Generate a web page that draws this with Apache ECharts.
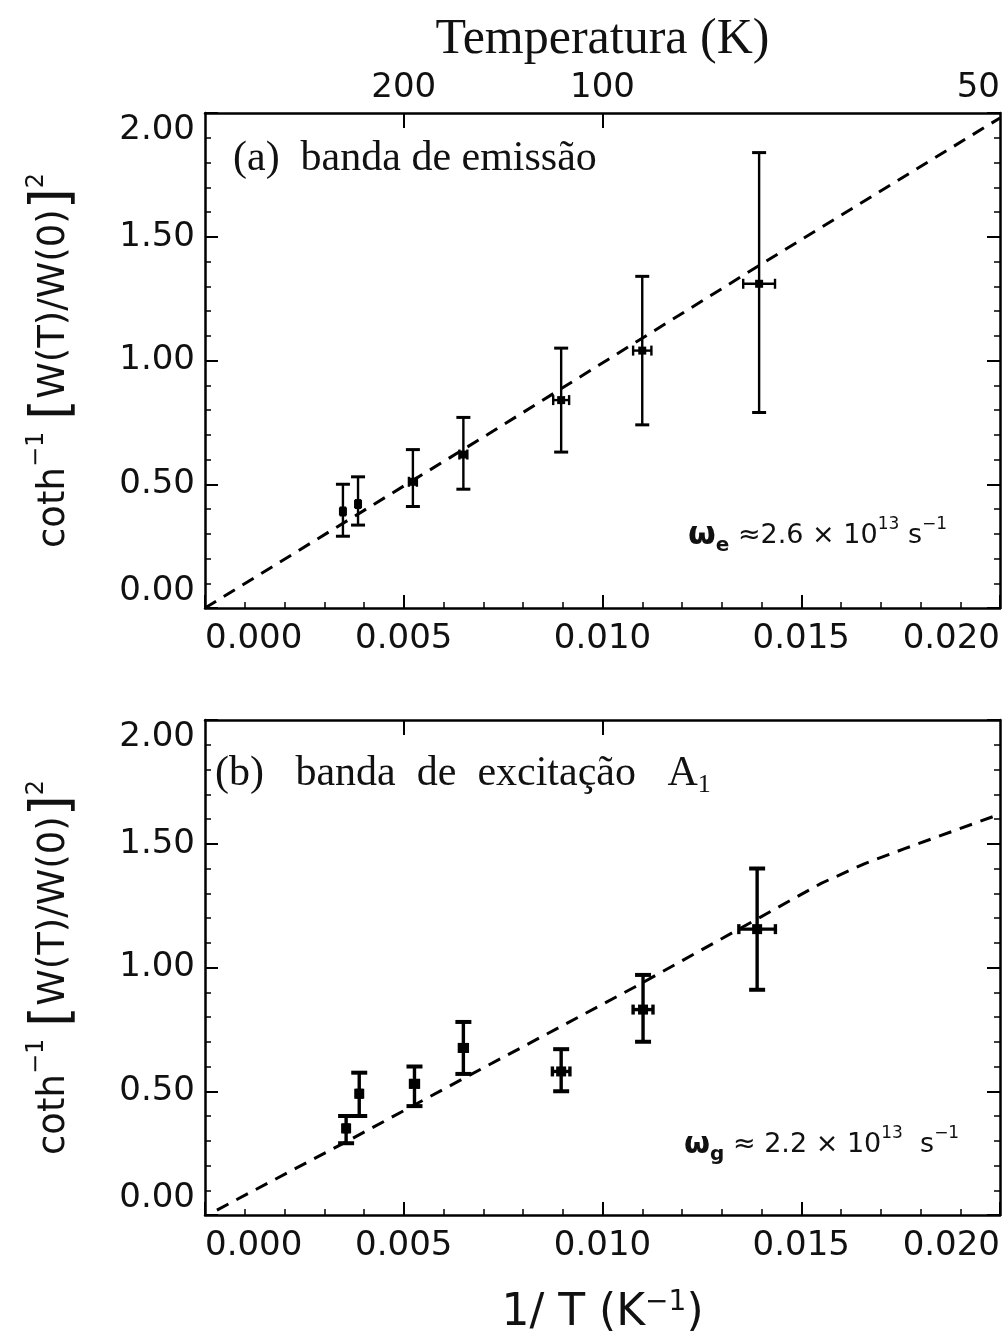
<!DOCTYPE html>
<html>
<head>
<meta charset="utf-8">
<script src="https://cdn.jsdelivr.net/npm/echarts@6/dist/echarts.min.js"></script>
<style>
html,body{margin:0;padding:0;background:#fff;}
#chart{width:1008px;height:1341px;}
</style>
</head>
<body>
<div id="chart"></div>
<script>
// ---------- data ----------
// Panel (a): banda de emissão
const aX     = [0.00347, 0.00385, 0.00523, 0.00650, 0.00896, 0.01100, 0.01394];
const aY     = [0.39, 0.42, 0.51, 0.62, 0.84, 1.04, 1.31];
const aYLow  = [0.29, 0.335, 0.41, 0.48, 0.63, 0.74, 0.79];
const aYHigh = [0.50, 0.53, 0.64, 0.77, 1.05, 1.34, 1.84];
const aXErr  = [0.00005, 0.00005, 0.0001, 0.0001, 0.0002, 0.00023, 0.0004];
const aLineX = [0, 0.0071, 0.0139, 0.0200];
const aLineY = [0, 0.70, 1.38, 1.98];

// Panel (b): banda de excitação A1
const bX     = [0.00355, 0.00388, 0.00527, 0.00650, 0.00896, 0.01102, 0.01389];
const bY     = [0.35, 0.49, 0.53, 0.675, 0.58, 0.83, 1.155];
const bYLow  = [0.29, 0.40, 0.44, 0.57, 0.50, 0.70, 0.91];
const bYHigh = [0.40, 0.575, 0.60, 0.78, 0.67, 0.97, 1.40];
const bXErr  = [0.00005, 0.00005, 0.0001, 0.0001, 0.00022, 0.00025, 0.00046];
const bLineX = [0.0003, 0.0036, 0.0066, 0.0108, 0.0155, 0.0166, 0.0176, 0.0200];
const bLineY = [0.02, 0.30, 0.56, 0.92, 1.34, 1.42, 1.48, 1.62];

// Top temperature axis
const tempTickValues = [0.005, 0.010, 0.020];
const tempTickLabels = ['200', '100', '50'];
const tempMarkValues = [0.005, 0.010];

// ---------- chart ----------
const FONT = 'DejaVu Sans';
const chart = echarts.init(document.getElementById('chart'), null, {renderer: 'canvas'});

function axisLineStyle() { return {show: true, onZero: false, lineStyle: {color: '#000', width: 2.5}}; }
function tickStyle(extra) {
  return Object.assign({show: true, inside: true, length: 13, lineStyle: {color: '#000', width: 2}}, extra || {});
}
function minorTickStyle() {
  return {show: true, splitNumber: 5, length: 6, lineStyle: {color: '#000', width: 1.5}};
}

function xBottom(gridIndex, name) {
  return {
    type: 'value', gridIndex, position: 'bottom', min: 0, max: 0.02, interval: 0.005,
    axisLine: axisLineStyle(), axisTick: tickStyle(), minorTick: minorTickStyle(), splitLine: {show: false},
    axisLabel: {show: true, margin: 14, fontFamily: FONT, fontSize: 34, color: '#111',
      formatter: v => v.toFixed(3), alignMinLabel: 'left', alignMaxLabel: 'right'},
    name: name || '', nameLocation: 'middle', nameGap: 74,
    nameTextStyle: {fontFamily: FONT, fontSize: 44, color: '#111',
      rich: {t: {fontFamily: FONT, fontSize: 44, color: '#111', lineHeight: 50},
             sup: {fontFamily: FONT, fontSize: 28, color: '#111', verticalAlign: 'top', lineHeight: 50}}}
  };
}
function xTop(gridIndex, withLabels) {
  return {
    type: 'value', gridIndex, position: 'top', min: 0, max: 0.02,
    axisLine: axisLineStyle(),
    axisTick: tickStyle({length: 15, customValues: tempMarkValues}),
    splitLine: {show: false},
    axisLabel: withLabels ? {show: true, margin: 8, fontFamily: FONT, fontSize: 34, color: '#111',
      customValues: tempTickValues,
      formatter: v => { const i = tempTickValues.findIndex(t => Math.abs(t - v) < 1e-9); return i >= 0 ? tempTickLabels[i] : ''; },
      alignMaxLabel: 'right'} : {show: false},
    name: withLabels ? 'Temperatura (K)' : '', nameLocation: 'middle', nameGap: 48,
    nameTextStyle: {fontFamily: 'Liberation Serif', fontSize: 50, color: '#111'}
  };
}
const yName = '{t|coth}{sup|−1}{t| }{br|[}{t|W(T)/W(0)}{br|]}{sup|2}';
function yLeft(gridIndex) {
  return {
    type: 'value', gridIndex, position: 'left', min: 0, max: 2, interval: 0.5,
    axisLine: axisLineStyle(), axisTick: tickStyle(), minorTick: minorTickStyle(), splitLine: {show: false},
    axisLabel: {show: true, margin: 10, fontFamily: FONT, fontSize: 34, color: '#111',
      formatter: v => v.toFixed(2), verticalAlignMinLabel: 'bottom', verticalAlignMaxLabel: 'top'},
    name: yName, nameLocation: 'middle', nameGap: 122, nameRotate: 90,
    nameTextStyle: {fontFamily: FONT, fontSize: 36, color: '#111',
      rich: {
        t: {fontFamily: FONT, fontSize: 37, color: '#111', lineHeight: 58},
        br: {fontFamily: FONT, fontSize: 54, color: '#111', lineHeight: 58},
        sup: {fontFamily: FONT, fontSize: 24, color: '#111', verticalAlign: 'top', lineHeight: 58}
      }}
  };
}
function yRight(gridIndex) {
  return {
    type: 'value', gridIndex, position: 'right', min: 0, max: 2, interval: 0.5,
    axisLine: axisLineStyle(), axisTick: tickStyle(), minorTick: minorTickStyle(), splitLine: {show: false},
    axisLabel: {show: false}
  };
}

function errorBarSeries(xIdx, yIdx, xs, ys, lo, hi, xe, lw, cap, mark) {
  return {
    type: 'custom', xAxisIndex: xIdx, yAxisIndex: yIdx,
    data: xs.map((x, i) => [x, ys[i], lo[i], hi[i], xe[i]]),
    encode: {x: 0, y: 1},
    z: 5,
    renderItem: function (params, api) {
      const x = api.value(0), y = api.value(1), l = api.value(2), h = api.value(3), e = api.value(4);
      const c = api.coord([x, y]);
      const pl = api.coord([x, l]);
      const ph = api.coord([x, h]);
      const pL = api.coord([x - e, y]);
      const pR = api.coord([x + e, y]);
      const hcap = 5;
      const st = {stroke: '#000', lineWidth: lw};
      const stc = {stroke: '#000', lineWidth: lw + 0.6};
      return {
        type: 'group',
        children: [
          {type: 'line', shape: {x1: c[0], y1: pl[1], x2: c[0], y2: ph[1]}, style: st},
          {type: 'line', shape: {x1: c[0] - cap, y1: pl[1], x2: c[0] + cap, y2: pl[1]}, style: stc},
          {type: 'line', shape: {x1: c[0] - cap, y1: ph[1], x2: c[0] + cap, y2: ph[1]}, style: stc},
          {type: 'line', shape: {x1: pL[0], y1: c[1], x2: pR[0], y2: c[1]}, style: st},
          {type: 'line', shape: {x1: pL[0], y1: c[1] - hcap, x2: pL[0], y2: c[1] + hcap}, style: st},
          {type: 'line', shape: {x1: pR[0], y1: c[1] - hcap, x2: pR[0], y2: c[1] + hcap}, style: st},
          {type: 'rect', shape: {x: c[0] - mark / 2, y: c[1] - mark / 2, width: mark, height: mark}, style: {fill: '#000'}}
        ]
      };
    }
  };
}
function lineSeries(xIdx, yIdx, xs, ys) {
  return {
    type: 'line', xAxisIndex: xIdx, yAxisIndex: yIdx,
    data: xs.map((x, i) => [x, ys[i]]),
    showSymbol: false, smooth: false, z: 3, silent: true,
    lineStyle: {color: '#000', width: 3, type: [13, 9]}
  };
}

const option = {
  backgroundColor: '#fff',
  animation: false,
  grid: [
    {left: 205, top: 113, width: 795, height: 495},
    {left: 205, top: 720, width: 795, height: 495}
  ],
  xAxis: [
    xBottom(0, ''),
    xTop(0, true),
    xBottom(1, '{t|1/ T (K}{sup|−1}{t|)}'),
    xTop(1, false)
  ],
  yAxis: [
    yLeft(0), yRight(0), yLeft(1), yRight(1)
  ],
  series: [
    lineSeries(0, 0, aLineX, aLineY),
    errorBarSeries(0, 0, aX, aY, aYLow, aYHigh, aXErr, 2.4, 7, 8),
    lineSeries(2, 2, bLineX, bLineY),
    errorBarSeries(2, 2, bX, bY, bYLow, bYHigh, bXErr, 3.4, 8, 10)
  ],
  graphic: [
    {type: 'text', left: 233, top: 138, z: 10,
      style: {text: '(a)  banda de emissão', font: '42px "Liberation Serif"', fill: '#111'}},
    {type: 'text', left: 215, top: 753, z: 10,
      style: {text: '{t|(b)   banda  de  excitação   A}{s|1}', fill: '#111',
        rich: {t: {font: '42px "Liberation Serif"', fill: '#111', lineHeight: 48},
               s: {font: '26px "Liberation Serif"', fill: '#111', verticalAlign: 'bottom', lineHeight: 48}}}},
    {type: 'text', left: 688, top: 516, z: 10,
      style: {text: '{w|ω}{sub|e}{t| ≈2.6 × 10}{sup|13}{t| s}{sup|−1}', fill: '#111',
        rich: {w: {font: 'bold 32px "DejaVu Sans"', fill: '#111', lineHeight: 40},
               t: {font: '27px "DejaVu Sans"', fill: '#111', lineHeight: 40},
               sub: {font: 'bold 20px "DejaVu Sans"', fill: '#111', verticalAlign: 'bottom', lineHeight: 40},
               sup: {font: '17px "DejaVu Sans"', fill: '#111', verticalAlign: 'top', lineHeight: 40}}}},
    {type: 'text', left: 684, top: 1125, z: 10,
      style: {text: '{w|ω}{sub|g}{t| ≈ 2.2 × 10}{sup|13}{t|  s}{sup|−1}', fill: '#111',
        rich: {w: {font: 'bold 30px "DejaVu Sans"', fill: '#111', lineHeight: 40},
               t: {font: '27px "DejaVu Sans"', fill: '#111', lineHeight: 40},
               sub: {font: 'bold 20px "DejaVu Sans"', fill: '#111', verticalAlign: 'bottom', lineHeight: 40},
               sup: {font: '17px "DejaVu Sans"', fill: '#111', verticalAlign: 'top', lineHeight: 40}}}}
  ]
};
chart.setOption(option);
</script>
</body>
</html>
